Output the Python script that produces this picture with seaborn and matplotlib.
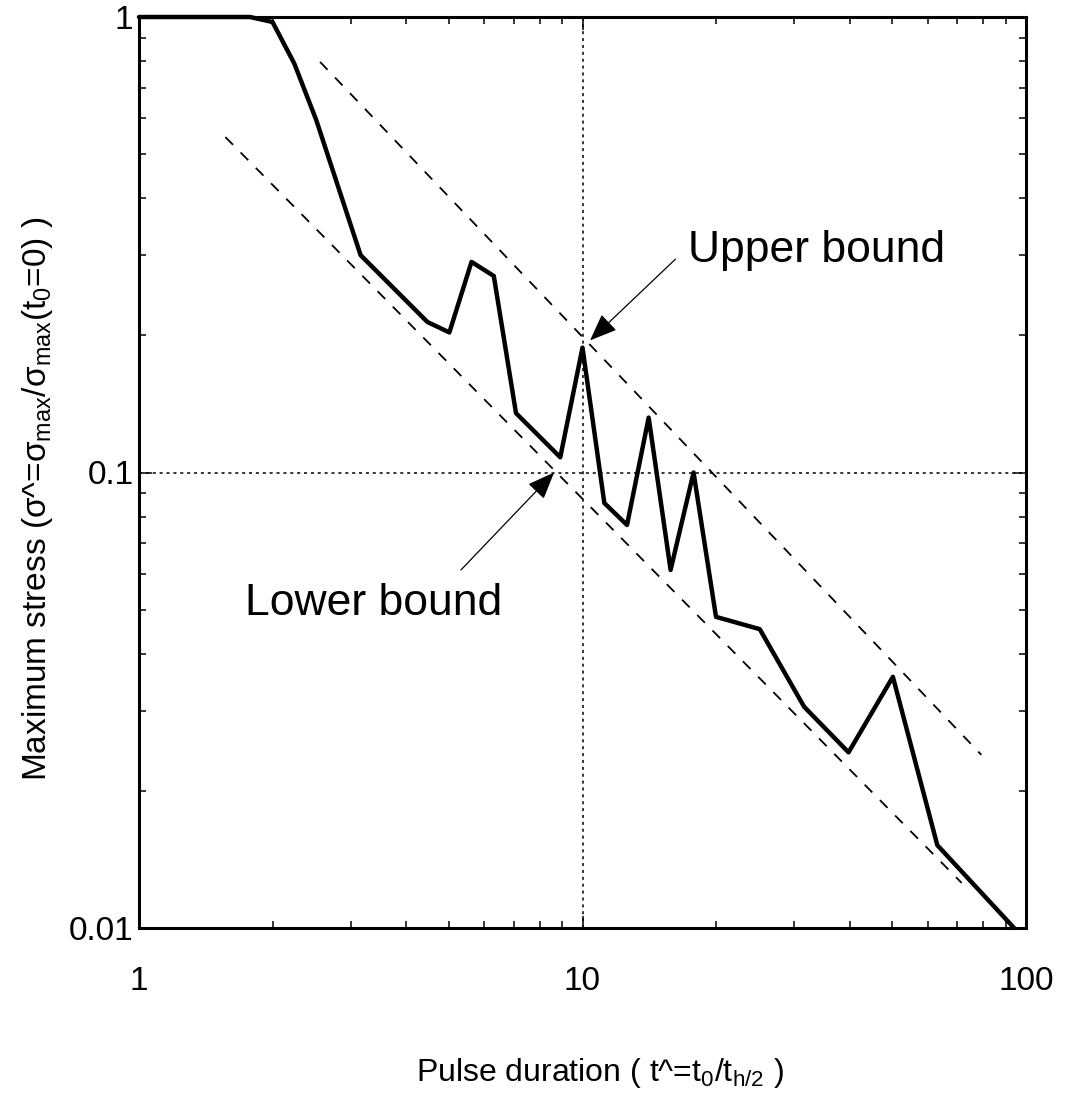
import matplotlib
matplotlib.use("Agg")
import matplotlib.pyplot as plt
import matplotlib.ticker as mticker
import seaborn as sns
import numpy as np

# ---- data ----
pulse_x = [1.0, 1.78, 2.0, 2.24, 2.51, 3.16, 4.47, 5.01, 5.62, 6.31, 7.08, 8.91,
           10.0, 11.2, 12.6, 14.1, 15.8, 17.8, 20.0, 25.1, 31.6, 39.8, 50.1, 63.1, 94.0]
stress_y = [1.0, 1.0, 0.975, 0.79, 0.594, 0.300, 0.214, 0.203, 0.290, 0.270, 0.135, 0.108,
            0.188, 0.0857, 0.0767, 0.132, 0.0611, 0.100, 0.0482, 0.0453, 0.0306, 0.0243,
            0.0356, 0.0152, 0.0100]

upper_x = [2.56, 79.3]
upper_y = [0.797, 0.024]
lower_x = [1.566, 71.6]
lower_y = [0.545, 0.01256]

x_ticks = [1, 10, 100]
x_tick_labels = ["1", "10", "100"]
y_ticks = [0.01, 0.1, 1]
y_tick_labels = ["0.01", "0.1", "1"]

upper_label = "Upper bound"
upper_tip = (10.4, 0.195)
upper_tail = (16.2, 0.294)
upper_text_pos = (17.3, 0.29)
lower_label = "Lower bound"
lower_tip = (8.63, 0.100)
lower_tail = (5.32, 0.0611)
lower_text_pos = (1.73, 0.0487)

# ---- style ----
sns.set_theme(style="ticks")
plt.rcParams["font.family"] = ["Liberation Sans", "DejaVu Sans"]
plt.rcParams["mathtext.fontset"] = "custom"
plt.rcParams["mathtext.rm"] = "Liberation Sans"
plt.rcParams["mathtext.it"] = "Liberation Sans:italic"
plt.rcParams["mathtext.default"] = "regular"
plt.rcParams["text.color"] = "black"
plt.rcParams["axes.labelcolor"] = "black"

fig = plt.figure(figsize=(10.65, 11.04), dpi=100)
ax = fig.add_subplot(111)
fig.subplots_adjust(left=139/1065, right=1026/1065, top=1-17/1104, bottom=1-928/1104)

ax.set_xscale("log")
ax.set_yscale("log")
ax.set_xlim(1, 100)
ax.set_ylim(0.01, 1)

# reference grid lines at 10 and 0.1
ax.axvline(10, color="black", lw=1.1, ls=(0, (2, 2.5)), zorder=1)
ax.axhline(0.1, color="black", lw=1.1, ls=(0, (2, 2.5)), zorder=1)

# bound lines
sns.lineplot(x=upper_x, y=upper_y, ax=ax, color="black", lw=1.3,
             linestyle=(0, (6, 6)), estimator=None, sort=False, zorder=2)
sns.lineplot(x=lower_x, y=lower_y, ax=ax, color="black", lw=1.3,
             linestyle=(0, (6, 6)), estimator=None, sort=False, zorder=2)

# main curve
sns.lineplot(x=pulse_x, y=stress_y, ax=ax, color="black", lw=3.2,
             estimator=None, sort=False, zorder=3, clip_on=False)

# annotations
arrow = dict(arrowstyle="-|>,head_length=0.85,head_width=0.34", color="black",
             lw=0.9, mutation_scale=20, shrinkA=0, shrinkB=0)
ax.annotate("", xy=upper_tip, xytext=upper_tail, arrowprops=arrow)
ax.annotate("", xy=lower_tip, xytext=lower_tail, arrowprops=arrow)
ax.text(*upper_text_pos, upper_label, fontsize=32, ha="left", va="baseline")
ax.text(*lower_text_pos, lower_label, fontsize=32, ha="left", va="baseline")

# ticks
ax.xaxis.set_major_locator(mticker.FixedLocator(x_ticks))
ax.xaxis.set_major_formatter(mticker.FixedFormatter(x_tick_labels))
ax.yaxis.set_major_locator(mticker.FixedLocator(y_ticks))
ax.yaxis.set_major_formatter(mticker.FixedFormatter(y_tick_labels))
ax.xaxis.set_minor_locator(mticker.LogLocator(base=10, subs=np.arange(2, 10), numticks=20))
ax.yaxis.set_minor_locator(mticker.LogLocator(base=10, subs=np.arange(2, 10), numticks=20))
ax.xaxis.set_minor_formatter(mticker.NullFormatter())
ax.yaxis.set_minor_formatter(mticker.NullFormatter())
ax.tick_params(which="both", direction="in", top=True, right=True, colors="black",
               width=1.1)
ax.tick_params(which="major", length=9)
ax.tick_params(which="minor", length=5)
ax.tick_params(axis="x", which="major", labelsize=24, pad=27)
ax.tick_params(axis="y", which="major", labelsize=24, pad=4)

for s in ax.spines.values():
    s.set_linewidth(2.2)
    s.set_color("black")
    s.set_visible(True)

ax.set_xlabel("Pulse duration ( t^=t$_0$/t$_{h/2}$ )", fontsize=23)
ax.set_ylabel("Maximum stress (σ^=σ$_{max}$/σ$_{max}$(t$_0$=0) )", fontsize=24)
ax.xaxis.set_label_coords(0.52, -0.14)
ax.yaxis.set_label_coords(-0.095, 0.471)

fig.savefig("out.png", dpi=100, facecolor="white")
